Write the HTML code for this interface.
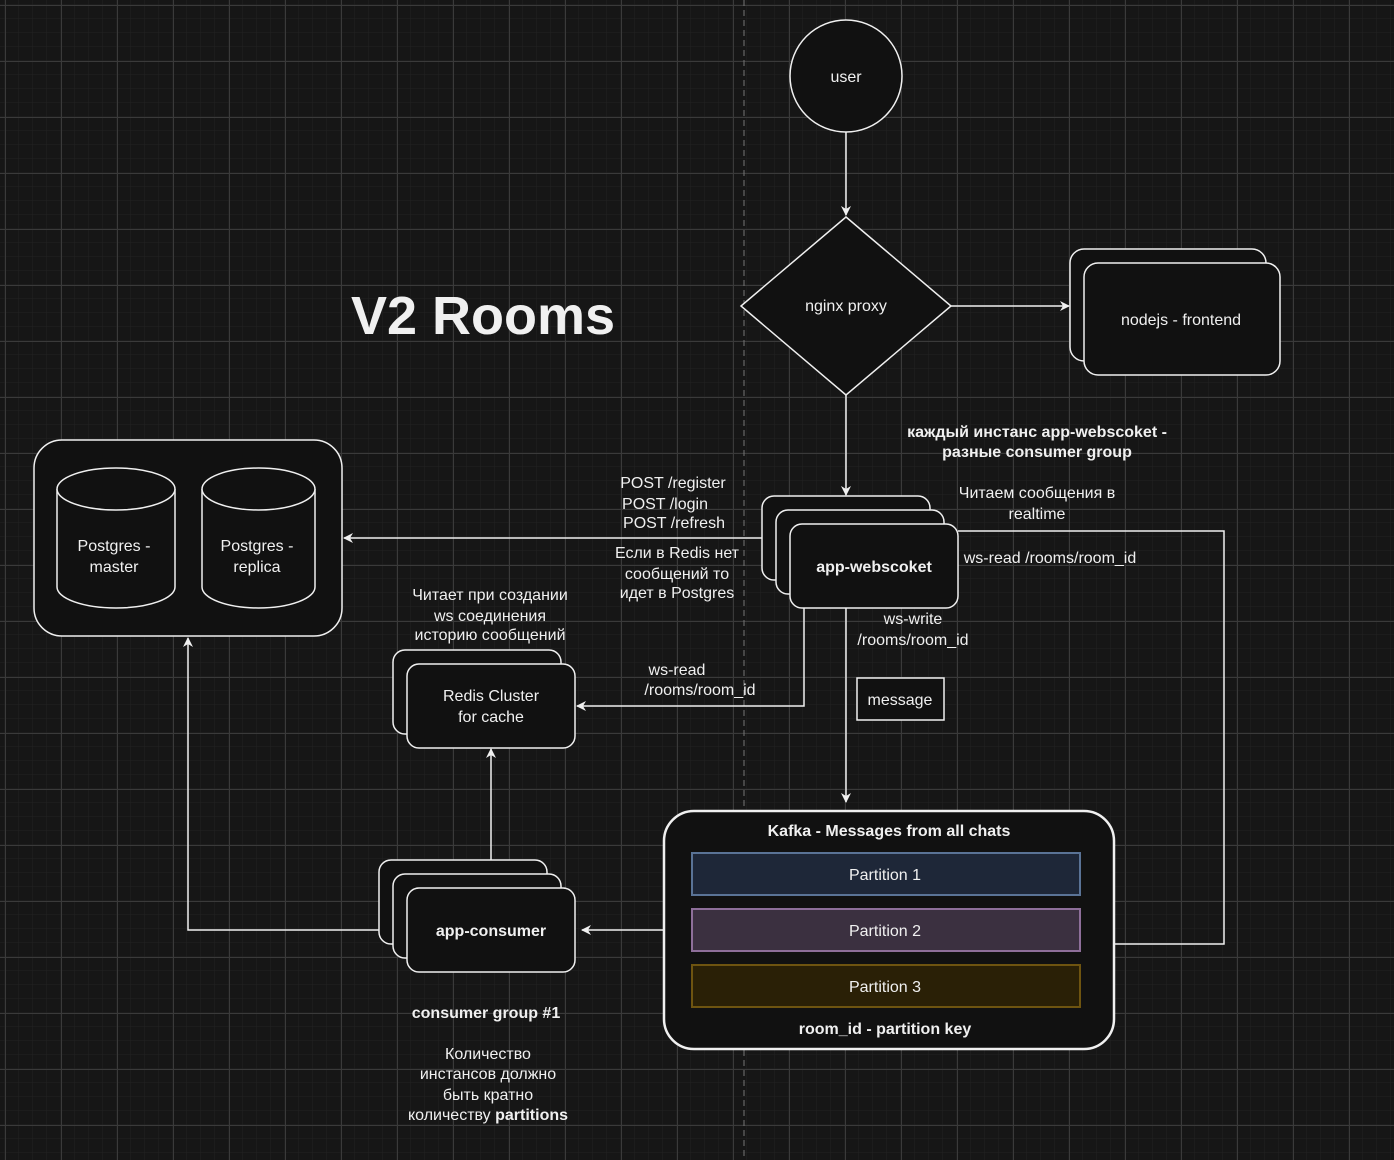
<!DOCTYPE html>
<html><head><meta charset="utf-8"><style>
html,body{margin:0;padding:0;background:#161616;}
svg{display:block;}
text{font-family:"Liberation Sans","DejaVu Sans",sans-serif;fill:#f0f0f0;font-size:16px;}
.b{font-weight:bold;}
</style></head><body>
<svg width="1394" height="1160" viewBox="0 0 1394 1160" xmlns="http://www.w3.org/2000/svg">
<defs>
<pattern id="mn" x="5" y="5" width="14" height="14" patternUnits="userSpaceOnUse"><path d="M14 0V14M0 14H14" stroke="#222" stroke-width="1" fill="none"/></pattern>
<pattern id="mj" x="5" y="5" width="56" height="56" patternUnits="userSpaceOnUse"><path d="M0.5 0V56M0 0.5H56" stroke="#3a3a3a" stroke-width="1" fill="none"/></pattern>
<marker id="a" markerWidth="10" markerHeight="10" refX="9" refY="5" orient="auto" markerUnits="userSpaceOnUse"><path d="M0 0L10 5L0 10L3 5Z" fill="#f0f0f0"/></marker>
</defs>
<rect width="1394" height="1160" fill="#161616"/>
<rect width="1394" height="1160" fill="url(#mn)"/>
<rect width="1394" height="1160" fill="url(#mj)"/>
<line x1="744" y1="0" x2="744" y2="1160" stroke="#777" stroke-dasharray="6,4" stroke-width="1"/>

<g stroke="#f0f0f0" stroke-width="1.5" fill="none">
<line x1="846" y1="132" x2="846" y2="215" marker-end="url(#a)"/>
<line x1="951" y1="306" x2="1069" y2="306" marker-end="url(#a)"/>
<line x1="846" y1="395" x2="846" y2="495" marker-end="url(#a)"/>
<line x1="762" y1="538" x2="344" y2="538" marker-end="url(#a)"/>
<polyline points="804,608 804,706 577,706" marker-end="url(#a)"/>
<line x1="846" y1="608" x2="846" y2="802" marker-end="url(#a)"/>
<polyline points="958,531 1224,531 1224,944 1114,944"/>
<line x1="664" y1="930" x2="582" y2="930" marker-end="url(#a)"/>
<line x1="491" y1="888" x2="491" y2="749" marker-end="url(#a)"/>
<polyline points="379,930 188,930 188,638" marker-end="url(#a)"/>
</g>

<g stroke="#f0f0f0" stroke-width="1.5" fill="#111">
<circle cx="846" cy="76" r="56"/>
<polygon points="846,217 951,306 846,395 741,306"/>
<rect x="1070" y="249" width="196" height="112" rx="14"/>
<rect x="1084" y="263" width="196" height="112" rx="14"/>
<rect x="34" y="440" width="308" height="196" rx="28"/>
<path d="M57 489 A59 21 0 0 1 175 489 V587 A59 21 0 0 1 57 587 Z"/>
<path d="M57 489 A59 21 0 0 0 175 489"/>
<path d="M202 489 A56.5 21 0 0 1 315 489 V587 A56.5 21 0 0 1 202 587 Z"/>
<path d="M202 489 A56.5 21 0 0 0 315 489"/>
<rect x="762" y="496" width="168" height="84" rx="12"/>
<rect x="776" y="510" width="168" height="84" rx="12"/>
<rect x="790" y="524" width="168" height="84" rx="12"/>
<rect x="393" y="650" width="168" height="84" rx="12"/>
<rect x="407" y="664" width="168" height="84" rx="12"/>
<rect x="379" y="860" width="168" height="84" rx="12"/>
<rect x="393" y="874" width="168" height="84" rx="12"/>
<rect x="407" y="888" width="168" height="84" rx="12"/>
<rect x="857" y="678" width="87" height="42"/>
<rect x="664" y="811" width="450" height="238" rx="30" stroke-width="2.5"/>
</g>
<rect x="692" y="853" width="388" height="42" fill="#1e2738" stroke="#5a7396" stroke-width="2"/>
<rect x="692" y="909" width="388" height="42" fill="#3b3040" stroke="#8e6f9a" stroke-width="2"/>
<rect x="692" y="965" width="388" height="42" fill="#2a2006" stroke="#6e5410" stroke-width="2"/>

<g text-anchor="middle">
<text x="846" y="82">user</text>
<text x="846" y="311">nginx proxy</text>
<text x="1181" y="325">nodejs - frontend</text>
<text x="483" y="334" class="b" style="font-size:54px">V2 Rooms</text>
<text x="114" y="551">Postgres -</text><text x="114" y="572">master</text>
<text x="257" y="551">Postgres -</text><text x="257" y="572">replica</text>
<text x="874" y="572" class="b">app-webscoket</text>
<text x="491" y="701">Redis Cluster</text><text x="491" y="722">for cache</text>
<text x="491" y="936" class="b">app-consumer</text>
<text x="900" y="705">message</text>
<text x="673" y="488">POST /register</text>
<text x="665" y="509">POST /login</text>
<text x="674" y="528">POST /refresh</text>
<text x="677" y="558">Если в Redis нет</text>
<text x="677" y="579">сообщений то</text>
<text x="677" y="598">идет в Postgres</text>
<text x="490" y="600">Читает при создании</text>
<text x="490" y="621">ws соединения</text>
<text x="490" y="640">историю сообщений</text>
<text x="677" y="675">ws-read</text>
<text x="700" y="695">/rooms/room_id</text>
<text x="913" y="624">ws-write</text>
<text x="913" y="645">/rooms/room_id</text>
<text x="1050" y="563">ws-read /rooms/room_id</text>
<text x="1037" y="498">Читаем сообщения в</text>
<text x="1037" y="519">realtime</text>
<text x="1037" y="437" class="b">каждый инстанс app-webscoket -</text>
<text x="1037" y="457" class="b">разные consumer group</text>
<text x="889" y="836" class="b">Kafka - Messages from all chats</text>
<text x="885" y="880">Partition 1</text>
<text x="885" y="936">Partition 2</text>
<text x="885" y="992">Partition 3</text>
<text x="885" y="1034" class="b">room_id - partition key</text>
<text x="486" y="1018" class="b">consumer group #1</text>
<text x="488" y="1059">Количество</text>
<text x="488" y="1079">инстансов должно</text>
<text x="488" y="1100">быть кратно</text>
<text x="488" y="1120">количеству <tspan class="b">partitions</tspan></text>
</g>
</svg>
</body></html>
